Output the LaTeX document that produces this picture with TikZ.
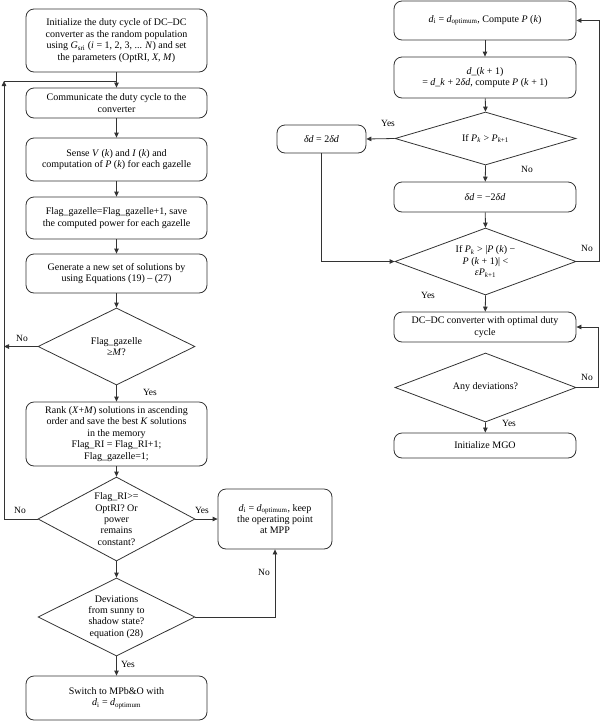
\documentclass[tikz,border=0pt]{standalone}
\usepackage{fontspec}
\setmainfont{Liberation Serif}
\usetikzlibrary{arrows.meta,shapes.geometric}
\definecolor{lc}{HTML}{333333}
\newcommand\ti[1]{\textit{#1}}
\newcommand\sbs[1]{\textsubscript{#1}}
\begin{document}
\begin{tikzpicture}[x=1pt,y=-1pt,
  every node/.style={font=\fontsize{10}{11.4}\selectfont},
  box/.style={draw=lc, rounded corners=8pt, line width=0.8pt, inner sep=0pt, align=center},
  dia/.style={draw=lc, diamond, line width=0.8pt, inner sep=0pt},
  txt/.style={inner sep=0pt, align=center},
  lbl/.style={inner sep=0pt, font=\fontsize{9.5}{11}\selectfont},
  conn/.style={draw=lc, line width=0.8pt},
  arr/.style={conn, -{Triangle[length=5pt,width=4.5pt]}}
]
\useasboundingbox (0,0) rectangle (600,721);

% ---------- left column ----------
\node[box, minimum width=181pt, minimum height=63pt] (b1) at (116.5,40.5)
  {Initialize the duty cycle of DC--DC\\converter as the random population\\using \ti{G}\sbs{sri} (\ti{i} = 1, 2, 3, ... \ti{N}) and set\\the parameters (OptRI, \ti{X}, \ti{M})};
\node[box, minimum width=181pt, minimum height=30pt] (b2) at (116.5,103)
  {Communicate the duty cycle to the\\converter};
\node[box, minimum width=181pt, minimum height=43pt] (b3) at (116.5,159.5)
  {Sense \ti{V} (\ti{k}) and \ti{I} (\ti{k}) and\\computation of \ti{P} (\ti{k}) for each gazelle};
\node[box, minimum width=181pt, minimum height=42pt] (b4) at (116.5,218)
  {Flag\_gazelle=Flag\_gazelle+1, save\\the computed power for each gazelle};
\node[box, minimum width=181pt, minimum height=39pt] (b5) at (116.5,273.5)
  {Generate a new set of solutions by\\using Equations (19) -- (27)};
\node[dia, minimum width=157pt, minimum height=77pt] (d1) at (116.5,346.5) {};
\node[txt] (d1t) at (d1) {Flag\_gazelle\\≥\ti{M}?};
\node[box, minimum width=181pt, minimum height=64pt] (b6) at (116.5,434)
  {Rank (\ti{X}+\ti{M}) solutions in ascending\\order and save the best \ti{K} solutions\\in the memory\\Flag\_RI = Flag\_RI+1;\\Flag\_gazelle=1;};
\node[dia, minimum width=157pt, minimum height=84pt] (d2) at (116.5,519) {};
\node[txt] (d2t) at (d2) {Flag\_RI>=\\OptRI? Or\\power\\remains\\constant?};
\node[box, minimum width=114pt, minimum height=60pt] (mpp) at (275,519)
  {\ti{d}\sbs{i} = \ti{d}\sbs{optimum}, keep\\the operating point\\at MPP};
\node[dia, minimum width=157pt, minimum height=78pt] (d3) at (116.5,617) {};
\node[txt] (d3t) at (d3) {Deviations\\from sunny to\\shadow state?\\equation (28)};
\node[box, minimum width=181pt, minimum height=44pt] (bf) at (116.5,698)
  {Switch to MPb\&O with\\\ti{d}\sbs{i} = \ti{d}\sbs{optimum}};

\coordinate (lc) at (4,81);
\draw[arr] (b1) -- (b2);
\draw[arr] (b2) -- (b3);
\draw[arr] (b3) -- (b4);
\draw[arr] (b4) -- (b5);
\draw[arr] (b5) -- (d1.north);
\draw[arr] (d1.south) -- (b6);
\draw[arr] (b6) -- (d2.north);
\draw[arr] (d2.south) -- (d3.north);
\draw[arr] (d3.south) -- (bf);
\draw[arr] (d1.west) -- (d1.west -| lc);
\draw[arr] (d2.west) -- (d2.west -| lc) -- (lc);
\draw[conn] (lc) -- (b1.south |- lc);
\draw[arr] (d2.east) -- (mpp.west);
\draw[arr] (d3.east) -| (mpp.south);

\node[lbl] (l1) at (22,338) {No};
\node[lbl] (l2) at (150,392) {Yes};
\node[lbl] (l3) at (20,510) {No};
\node[lbl] (l4) at (202,510) {Yes};
\node[lbl] (l5) at (264,572) {No};
\node[lbl] (l6) at (128,664) {Yes};

% ---------- right column ----------
\node[box, minimum width=182pt, minimum height=39pt] (r1) at (485,20.5)
  {\ti{d}\sbs{i} = \ti{d}\sbs{optimum}, Compute \ti{P} (\ti{k})};
\node[box, minimum width=182pt, minimum height=41pt] (r2) at (485,77.5)
  {\ti{d}\_(\ti{k} + 1)\\= \ti{d}\_\ti{k} + 2\ti{δd}, compute \ti{P} (\ti{k} + 1)};
\node[dia, minimum width=181pt, minimum height=53pt] (dr1) at (485.5,138.5) {};
\node[txt] (dr1t) at (dr1) {If \ti{P}\sbs{\ti{k}} > \ti{P}\sbs{\ti{k}+1}};
\node[box, minimum width=89pt, minimum height=28pt] (del) at (321.5,139)
  {\ti{δd} = 2\ti{δd}};
\node[box, minimum width=182pt, minimum height=30pt] (r3) at (485,197)
  {\ti{δd} = −2\ti{δd}};
\node[dia, minimum width=181pt, minimum height=67pt] (dr2) at (485.5,261.5) {};
\node[txt] (dr2t) at (dr2) {If \ti{P}\sbs{\ti{k}} > |\ti{P} (\ti{k}) −\\\ti{P} (\ti{k} + 1)| <\\\ti{εP}\sbs{\ti{k}+1}};
\node[box, minimum width=182pt, minimum height=30pt] (r4) at (485,327)
  {DC--DC converter with optimal duty\\cycle};
\node[dia, minimum width=181pt, minimum height=69pt] (dr3) at (485.5,387.5) {};
\node[txt] (dr3t) at (dr3) {Any deviations?};
\node[box, minimum width=182pt, minimum height=25pt] (r5) at (485,445.5)
  {Initialize MGO};

\coordinate (rc1) at (599,20.5);
\coordinate (rc2) at (598,327);
\draw[arr] (r1) -- (r2);
\draw[arr] (r2) -- (dr1.north);
\draw[arr] (dr1.west) -- (del.east);
\draw[arr] (dr1.south) -- (r3);
\draw[arr] (r3) -- (dr2.north);
\draw[arr] (del.south) |- (dr2.west);
\draw[arr] (dr2.east) -- (dr2.east -| rc1) -- (rc1) -- (r1.east);
\draw[arr] (dr2.south) -- (r4);
\draw[arr] (dr3.east) -- (dr3.east -| rc2) -- (rc2) -- (r4.east);
\draw[arr] (dr3.south) -- (r5);

\node[lbl] (l7) at (388,123) {Yes};
\node[lbl] (l8) at (527,169) {No};
\node[lbl] (l9) at (587,248) {No};
\node[lbl] (l10) at (428,295) {Yes};
\node[lbl] (l11) at (587,377) {No};
\node[lbl] (l12) at (509,423) {Yes};
\end{tikzpicture}
\end{document}
